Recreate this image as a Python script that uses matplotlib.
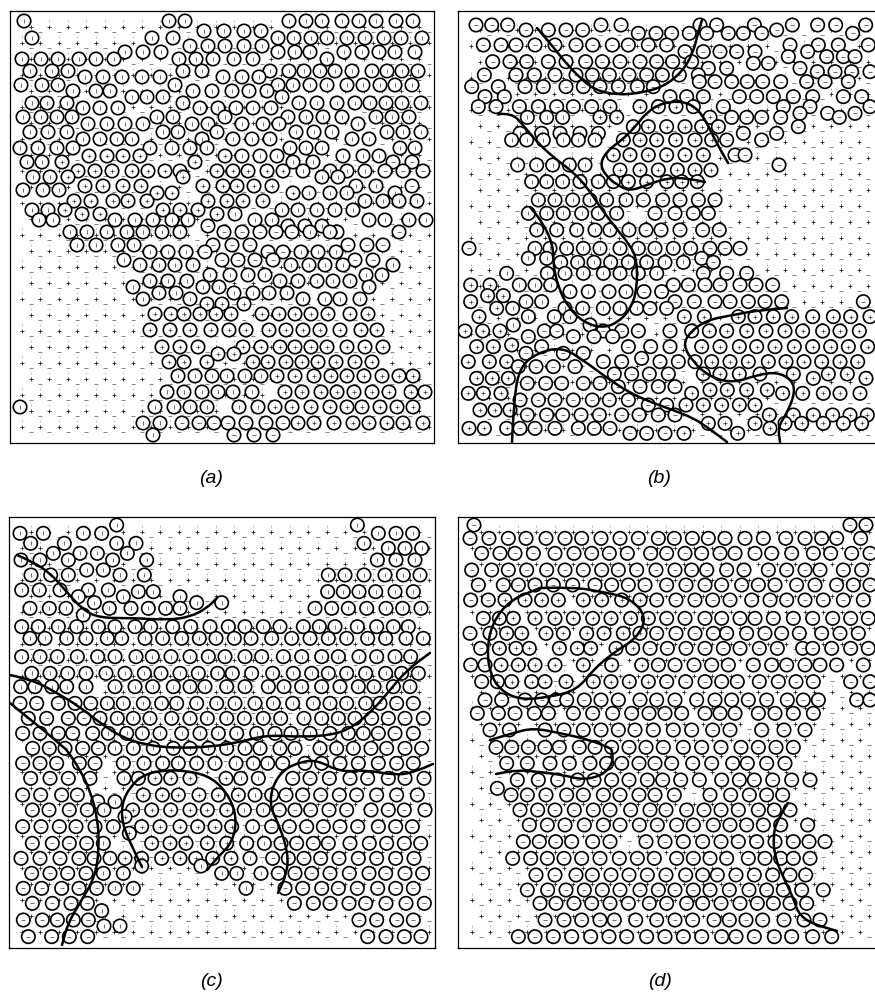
import numpy as np
import matplotlib
matplotlib.use('Agg')
import matplotlib.pyplot as plt
from matplotlib.path import Path
from matplotlib.patches import PathPatch, Circle

plt.rcParams['font.family'] = ['Liberation Sans', 'DejaVu Sans']

# rows are (y, [x, ...])
# panel a, image pixels
rows_a = [
    (21, [24, 169, 185, 289, 306, 322, 342, 359, 376, 396, 413]),
    (31, [204, 224, 244, 261]),
    (38, [32, 152, 173, 278, 294, 311, 327, 347, 365, 384, 401, 422]),
    (46, [190, 208, 225, 244, 262]),
    (52, [125, 143, 161, 278, 295, 310, 344, 362, 379, 395, 415]),
    (59, [22, 41, 58, 79, 96, 114, 179, 196, 213, 234, 253, 327]),
    (71, [30, 52, 68, 183, 202, 270, 289, 304, 320, 335, 352, 372, 387, 402, 418]),
    (77, [85, 103, 122, 142, 160, 223, 242, 259]),
    (85, [21, 42, 58, 175, 278, 293, 310, 327, 347, 363, 380, 395, 412]),
    (91, [73, 96, 110, 193, 212, 232, 249, 267]),
    (97, [132, 147, 163, 282]),
    (103, [32, 47, 67, 183, 299, 317, 337, 355, 370, 386, 402, 421]),
    (108, [83, 100, 118, 200, 218, 236, 253, 271]),
    (117, [23, 41, 57, 72, 157, 173, 225, 288, 306, 323, 342, 376, 392, 409]),
    (124, [88, 107, 125, 143, 192, 208, 242, 263, 279, 358]),
    (132, [30, 48, 67, 163, 178, 217, 296, 314, 332, 387, 403, 421]),
    (139, [83, 100, 117, 132, 202, 233, 252, 270, 352, 369]),
    (148, [20, 38, 57, 73, 150, 172, 190, 207, 290, 306, 322, 400, 415]),
    (156, [89, 107, 123, 140, 225, 242, 260, 277, 343, 363, 379]),
    (162, [27, 42, 62, 195, 293, 313, 393, 412]),
    (171, [78, 95, 112, 132, 148, 165, 180, 217, 233, 248, 267, 283, 303, 330, 347, 365, 385, 403, 423]),
    (177, [33, 50, 68, 183, 322, 338]),
    (186, [85, 103, 123, 141, 203, 223, 237, 254, 272, 356, 376, 412]),
    (193, [157, 172, 293, 309, 330, 347, 395]),
    (190, [23, 43, 59]),
    (201, [74, 91, 113, 128, 147, 208, 227, 243, 263, 365, 383, 399, 417]),
    (210, [32, 48, 65, 163, 180, 198, 282, 298, 317, 335, 353]),
    (214, [82, 100, 217, 235]),
    (220, [39, 53, 115, 135, 153, 172, 188, 255, 272, 369, 385, 409, 426]),
    (226, [208, 288, 305, 322]),
    (232, [70, 87, 107, 127, 143, 162, 180, 224, 242, 260, 276, 337, 292, 310, 330, 399]),
    (245, [77, 96, 118, 134, 213, 232, 250, 348, 367, 383]),
    (252, [150, 168, 186, 205, 268, 283, 301, 318, 336]),
    (260, [124, 222, 238, 255, 273, 355, 373]),
    (265, [140, 159, 175, 193, 291, 309, 325, 343, 393]),
    (275, [210, 230, 248, 265, 366, 382]),
    (281, [150, 168, 187, 280, 298, 317, 333, 350]),
    (287, [133, 203, 219, 369]),
    (293, [159, 176, 234, 253, 269, 287]),
    (299, [143, 190, 303, 325, 340, 360]),
    (304, [207, 222, 244]),
    (314, [155, 171, 184, 200, 216, 231, 262, 279, 295, 311, 328, 350, 368]),
    (330, [150, 170, 190, 211, 229, 246, 269, 286, 303, 320, 340, 361, 377]),
    (347, [162, 180, 198, 243, 261, 280, 295, 311, 327, 347, 365, 383]),
    (354, [218, 234]),
    (362, [169, 184, 207, 253, 268, 286, 302, 318, 336, 355, 372]),
    (376, [178, 195, 212, 227, 245, 261, 277, 295, 314, 331, 347, 364, 382, 399, 413]),
    (392, [167, 184, 202, 218, 233, 252, 285, 302, 321, 337, 354, 372, 389, 411, 425]),
    (407, [20, 155, 174, 190, 207, 239, 258, 275, 292, 311, 330, 347, 362, 380, 397, 413]),
    (423, [143, 160, 182, 199, 214, 228, 246, 266, 283, 298, 314, 334, 353, 369, 387, 403, 423]),
    (435, [153, 234, 254, 273]),
]

# panel b, 3x crop units, crop origin (440, 0)
rows_b_top = [
    (75, [108, 155, 203, 483, 543, 780, 830, 943, 1057, 1133, 1187, 1277]),
    (90, [258, 325, 378, 428, 1010]),
    (100, [595, 648, 695, 748, 800, 865, 910, 965, 1238]),
    (135, [130, 183, 228, 285, 345, 408, 458, 517, 565, 625, 680, 1050, 1135, 1195, 1285]),
    (155, [735, 790, 840, 890, 945, 1103]),
    (185, [158, 210, 260, 325, 378, 437, 487, 540, 600, 650, 698, 755]),
    (170, [1045, 1160, 1210, 1245]),
    (190, [940, 985]),
    (205, [805, 860, 1080]),
    (225, [133, 228, 283, 345, 408, 457, 508, 567, 620, 667, 718, 775]),
    (215, [1132, 1185, 1235, 1290]),
    (245, [778, 825, 875, 922, 968, 1022, 1100, 1155, 1225]),
    (260, [95, 175, 255, 310, 378, 430, 480, 535, 592, 640]),
    (290, [135, 193, 690, 740, 790, 898, 950, 1000, 1060, 1118, 1210, 1265]),
    (320, [115, 168, 238, 295, 350, 400, 455, 510, 600, 655, 708, 760, 850, 1030, 1110, 1290]),
    (340, [1080, 1163, 1245]),
    (352, [262, 320, 368, 480, 530, 810, 875, 920, 965, 1022, 1198]),
    (380, [580, 625, 680, 735, 785, 835, 1075]),
    (400, [240, 305, 360, 420, 475, 910, 1010]),
    (420, [215, 260, 310, 370, 415, 465, 550, 600, 650, 707, 765, 815, 860, 965]),
    (465, [520, 570, 625, 680, 735, 790, 885, 915]),
    (495, [233, 290, 338, 388, 435, 1017]),
    (510, [540, 600, 655, 712, 765, 813]),
    (545, [275, 320, 368, 420, 475, 520, 565, 620, 680, 725, 772]),
    (600, [295, 345, 398, 450, 500, 558, 610, 668, 720, 775, 825]),
    (640, [265, 320, 370, 425, 475, 530, 645, 705, 760, 805]),
    (690, [290, 350, 410, 465, 510, 567, 618, 663, 720, 788, 838]),
]
# panel b, crop origin (440, 230)
rows_b_bot = [
    (55, [87, 285, 330, 380, 430, 480, 540, 595, 645, 700, 752, 810, 855, 900]),
    (85, [265, 320, 785]),
    (97, [362, 413, 462, 512, 565, 620, 675, 730, 820]),
    (130, [200, 322, 375, 430, 490, 540, 595, 650, 790, 860, 920]),
    (165, [92, 150, 238, 285, 332, 700, 745, 795, 840, 900, 948, 998]),
    (185, [390, 445, 507, 558, 612, 665]),
    (197, [143, 190]),
    (215, [92, 258, 305, 705, 763, 825, 870, 925, 975, 1025, 1270]),
    (235, [170, 218, 375, 428, 490, 540, 590, 630, 680]),
    (260, [117, 265, 343, 390, 733, 793, 895, 945, 1000, 1055, 1118, 1180, 1232, 1290]),
    (285, [220, 450]),
    (303, [75, 128, 180, 313, 350, 490, 545, 595, 690, 755, 808, 860, 920, 978, 1035, 1088, 1148, 1200, 1258]),
    (320, [265, 400, 462, 518]),
    (345, [215]),
    (350, [110, 160, 305, 565, 632, 690, 785, 840, 898, 950, 1005, 1063, 1118, 1172, 1225, 1283]),
    (370, [258, 370, 430]),
    (385, [605]),
    (395, [85, 148, 200, 490, 545, 660, 715, 765, 815, 870, 925, 985, 1038, 1092, 1145, 1200, 1253]),
    (410, [235, 288, 340, 405]),
    (432, [523, 575, 628, 685, 790, 840, 898, 960, 1060, 1165, 1222]),
    (445, [110, 157, 205, 1120, 1278]),
    (460, [262, 317, 365, 430, 480]),
    (470, [535, 600, 655, 705]),
    (480, [810, 862, 920, 982]),
    (490, [85, 130, 183, 755, 1028, 1260, 1150, 1200, 1088]),
    (510, [240, 295, 345, 400, 457, 508, 565]),
    (525, [625, 680, 738, 790, 845, 898, 945]),
    (540, [120, 165, 210]),
    (555, [262, 320, 368, 423, 478, 545, 597, 655, 705, 988, 1060, 1120, 1178, 1230, 1282]),
    (580, [805, 855, 945, 1035, 1085, 1150, 1210, 1265]),
    (595, [87, 133, 200, 240, 285, 345, 415, 463, 510, 990]),
    (610, [570, 620, 675, 732, 893]),
]

# panel c, crop origin (0, 510)
rows_c_top = [
    (45, [350, 1072]),
    (70, [60, 130, 250, 305, 1135, 1188, 1238]),
    (100, [92, 193, 350, 408, 1092]),
    (115, [1165, 1215, 1265]),
    (130, [160, 240, 292, 382]),
    (150, [63, 120, 205, 338, 440, 1132, 1188, 1245]),
    (180, [260, 310]),
    (195, [93, 152, 205, 360, 433, 985, 1035, 1092, 1155, 1210, 1260]),
    (240, [65, 118, 180, 265, 325]),
    (245, [415, 460, 983, 1030, 1077, 1127, 1185, 1240]),
    (260, [235, 370, 540]),
    (278, [283, 590, 665]),
    (295, [90, 148, 198, 328, 393, 445, 497, 540, 945, 995, 1045, 1100, 1158, 1208, 1263]),
    (315, [250]),
    (350, [65, 115, 175, 230, 295, 345, 405, 452, 518, 572, 630, 685, 735, 790, 840, 910, 958, 1005, 1072, 1130, 1180, 1225]),
    (385, [90, 135, 200, 258, 322, 365, 435, 488, 545, 598, 648, 703, 753, 815, 875, 930, 985, 1040, 1103, 1157, 1218, 1270]),
    (440, [65, 120, 172, 232, 293, 345, 408, 457, 513, 570, 625, 675, 735, 785, 850, 905, 965, 1015, 1077, 1130, 1185, 1232]),
    (490, [95, 150, 203, 258, 318, 375, 433, 483, 540, 595, 653, 697, 755, 818, 880, 935, 985, 1040, 1097, 1157, 1205, 1255]),
    (530, [62, 105, 155, 200, 258, 345, 405, 458, 520, 570, 615, 680, 735, 805, 852, 905, 965, 1020, 1075, 1122, 1180, 1230]),
    (580, [60, 110, 175, 225, 272, 322, 370, 430, 485, 530, 590, 650, 705, 765, 820, 878, 940, 990, 1040, 1097, 1140, 1190, 1240]),
    (625, [85, 140, 205, 252, 300, 352, 400, 450, 515, 570, 622, 680, 733, 790, 842, 912, 965, 1015, 1065, 1115, 1165, 1215, 1270]),
    (670, [68, 120, 175, 218, 278, 325, 380, 427, 480, 545, 600, 655, 710, 770, 825, 873, 930, 990, 1045, 1090, 1135, 1185, 1240]),
]
# panel c, crop origin (0, 740)
rows_c_bot = [
    (25, [98, 148, 195, 248, 295, 345, 400, 460, 520, 570, 625, 680, 735, 780, 840, 885, 960, 1010, 1060, 1113, 1160, 1215, 1265]),
    (70, [68, 120, 170, 238, 285, 370, 432, 488, 535, 590, 645, 708, 760, 803, 848, 915, 965, 1020, 1075, 1135, 1190, 1240]),
    (115, [92, 150, 205, 270, 372, 415, 465, 512, 570, 678, 722, 775, 878, 930, 988, 1050, 1103, 1165, 1215, 1272]),
    (165, [68, 122, 185, 232, 430, 487, 535, 597, 655, 715, 765, 815, 858, 908, 962, 1018, 1070, 1130, 1190, 1252]),
    (185, [293, 345]),
    (210, [97, 147, 208, 262, 312, 398, 455, 512, 570, 622, 680, 733, 790, 838, 885, 932, 987, 1040, 1113, 1165, 1213, 1275]),
    (230, [375]),
    (260, [68, 123, 178, 228, 285, 340, 425, 480, 540, 593, 645, 695, 758, 815, 868, 920, 970, 1020, 1073, 1135, 1187, 1237]),
    (280, [388]),
    (310, [97, 157, 208, 260, 310, 455, 510, 558, 622, 680, 740, 793, 843, 890, 940, 985, 1050, 1108, 1160, 1213, 1262]),
    (355, [63, 120, 180, 237, 282, 330, 375, 425, 485, 540, 587, 638, 693, 750, 818, 865, 912, 962, 1017, 1075, 1130, 1187, 1242]),
    (378, [425, 603]),
    (400, [95, 150, 203, 258, 310, 370, 665, 710, 783, 835, 885, 935, 990, 1048, 1107, 1157, 1215, 1268]),
    (445, [70, 125, 185, 237, 290, 345, 400, 738, 855, 908, 965, 1015, 1072, 1133, 1187, 1240]),
    (490, [97, 157, 213, 262, 883, 940, 990, 1047, 1097, 1158, 1218, 1273]),
    (512, [305]),
    (540, [70, 127, 172, 220, 265, 1077, 1130, 1190, 1240]),
    (558, [312, 360]),
    (590, [85, 155, 208, 263, 1103, 1158, 1213, 1263]),
]

# panel d, crop origin (440, 510)
rows_d_top = [
    (45, [102, 1230, 1278]),
    (85, [90, 147, 205, 258, 318, 375, 425, 483, 540, 595, 655, 703, 757, 805, 855, 915, 970, 1037, 1095, 1145, 1190, 1262]),
    (130, [125, 180, 225, 280, 345, 402, 455, 508, 562, 632, 680, 735, 785, 840, 885, 945, 995, 1055, 1120, 1172, 1235, 1290]),
    (180, [95, 155, 205, 260, 320, 375, 430, 485, 535, 590, 648, 705, 755, 800, 860, 912, 985, 1040, 1095, 1140, 1210, 1265]),
    (225, [115, 190, 235, 285, 340, 398, 465, 515, 565, 615, 680, 738, 795, 845, 905, 955, 1005, 1070, 1125, 1190, 1240, 1290]),
    (270, [92, 145, 195, 255, 305, 355, 430, 485, 545, 600, 650, 708, 765, 818, 870, 935, 990, 1040, 1095, 1150, 1210, 1270]),
    (325, [130, 178, 220, 285, 345, 400, 458, 513, 572, 625, 680, 735, 795, 845, 900, 945, 1000, 1060, 1118, 1178, 1232, 1285]),
    (370, [90, 150, 200, 245, 318, 370, 440, 492, 550, 600, 650, 708, 765, 820, 860, 920, 975, 1025, 1078, 1145, 1200, 1255]),
    (415, [122, 178, 228, 268, 358, 412, 452, 528, 578, 630, 682, 738, 795, 850, 900, 958, 1012, 1088, 1118, 1175, 1232, 1285]),
    (465, [92, 135, 183, 235, 285, 345, 430, 515, 605, 655, 705, 762, 815, 865, 940, 995, 1040, 1095, 1140, 1190, 1270]),
    (515, [125, 172, 215, 275, 315, 378, 460, 513, 568, 625, 680, 737, 795, 845, 892, 958, 1015, 1068, 1120, 1232, 1290]),
    (570, [135, 185, 255, 305, 348, 380, 433, 483, 535, 600, 650, 705, 770, 825, 875, 925, 980, 1042, 1090, 1135, 1250, 1290]),
    (610, [112, 175, 225, 283, 325, 400, 458, 518, 575, 627, 675, 725, 795, 840, 885, 955, 1005, 1060, 1120]),
    (660, [150, 208, 315, 372, 430, 483, 535, 585, 640, 700, 755, 818, 870, 965, 1032, 1095]),
]
# panel d, crop origin (440, 740)
rows_d_bot = [
    (22, [168, 215, 265, 315, 358, 418, 465, 515, 567, 618, 670, 730, 785, 843, 903, 955, 1008, 1060]),
    (70, [200, 262, 330, 388, 450, 500, 545, 597, 645, 695, 758, 815, 878, 922, 980, 1035]),
    (120, [232, 295, 353, 413, 462, 515, 567, 622, 668, 722, 778, 845, 898, 943, 998, 1055, 1110]),
    (145, [172]),
    (165, [213, 262, 318, 380, 430, 490, 540, 597, 645, 703, 810, 872, 928, 980, 1028]),
    (210, [240, 293, 345, 403, 460, 510, 572, 630, 678, 740, 792, 843, 895, 955, 1003, 1050]),
    (255, [268, 322, 375, 433, 490, 540, 598, 652, 710, 760, 820, 870, 920, 970, 1022, 1103]),
    (305, [250, 298, 347, 395, 458, 510, 618, 675, 730, 788, 843, 895, 950, 1005, 1060, 1107, 1155]),
    (355, [218, 272, 322, 372, 425, 480, 538, 592, 643, 710, 760, 810, 860, 925, 975, 1022, 1060, 1110]),
    (405, [288, 345, 408, 457, 513, 567, 622, 678, 737, 788, 832, 888, 943, 998, 1050, 1097]),
    (450, [262, 323, 378, 433, 487, 540, 600, 655, 705, 760, 810, 868, 927, 980, 1030, 1085, 1150]),
    (490, [300, 348, 402, 455, 510, 565, 628, 680, 740, 788, 843, 900, 952, 1000, 1050, 1100]),
    (540, [315, 372, 425, 480, 523, 587, 650, 705, 758, 822, 868, 918, 968, 1032, 1092, 1140]),
    (590, [235, 285, 340, 395, 452, 507, 560, 620, 675, 730, 785, 845, 888, 943, 1003, 1055, 1118, 1175]),
]

# thick domain walls, image pixels
walls_b = [
    [(537, 28), (550, 43), (565, 62), (580, 78), (595, 90), (617, 95), (640, 93), (663, 87), (682, 72), (693, 53), (698, 33), (702, 20)],
    [(705, 182), (687, 178), (667, 178), (647, 185), (630, 191), (617, 185), (605, 175), (600, 163), (608, 150), (622, 140), (635, 127), (647, 112), (662, 103), (682, 101), (697, 108), (707, 123), (715, 140), (728, 163)],
    [(498, 114), (512, 113), (523, 125), (537, 142), (553, 157), (573, 172), (587, 187), (600, 207), (615, 227), (630, 245), (637, 260), (637, 290), (630, 310), (617, 323), (602, 328), (583, 322), (568, 307), (558, 287), (553, 263), (553, 245), (543, 223), (530, 207)],
    [(512, 442), (514, 397), (520, 367), (537, 353), (562, 347), (583, 360), (607, 378), (630, 393), (653, 403), (673, 410), (693, 418), (707, 427), (727, 442)],
    [(787, 308), (760, 310), (733, 315), (707, 320), (690, 332), (683, 345), (693, 362), (710, 377), (733, 383), (757, 375), (777, 372), (792, 380), (795, 393), (787, 413), (778, 427), (780, 442)],
]
walls_c = [
    [(17, 555), (33, 562), (50, 573), (65, 590), (83, 610), (100, 618), (133, 618), (167, 620), (190, 617), (207, 608), (217, 598)],
    [(10, 675), (33, 680), (57, 693), (80, 707), (100, 723), (123, 738), (147, 745), (173, 748), (210, 747), (240, 742), (267, 735), (300, 737), (333, 735), (353, 727), (373, 710), (390, 690), (407, 670), (430, 653)],
    [(10, 703), (27, 717), (47, 733), (63, 747), (67, 750), (80, 770), (90, 790), (98, 820), (99, 850), (95, 877), (80, 903), (68, 923), (62, 945)],
    [(142, 867), (132, 847), (122, 823), (122, 803), (130, 787), (143, 775), (163, 770), (190, 771), (213, 778), (230, 797), (237, 820), (232, 843), (218, 857), (207, 870)],
    [(433, 764), (413, 773), (393, 775), (367, 770), (340, 772), (317, 760), (300, 762), (283, 770), (272, 787), (270, 807), (280, 827), (288, 853), (287, 873), (278, 893)],
]
walls_d = [
    [(540, 588), (573, 587), (603, 592), (630, 598), (647, 617), (637, 638), (613, 653), (593, 670), (577, 690), (550, 697), (520, 700), (500, 690), (490, 673), (487, 650), (492, 623), (510, 600), (540, 588)],
    [(490, 740), (513, 733), (533, 728), (560, 733), (590, 740), (610, 748), (612, 750), (613, 763), (603, 775), (583, 780), (563, 775), (540, 772), (517, 770), (496, 774)],
    [(788, 803), (777, 820), (773, 837), (775, 857), (783, 877), (793, 897), (798, 913), (810, 923), (837, 931)],
]

# which small sign sits in the circles: x0, x1, y0, y1, sign
signs_a = [(0, 440, 0, 445, '|'), (60, 230, 150, 215, '+'), (230, 300, 170, 210, '+'), (380, 435, 150, 190, '_'),
           (200, 300, 225, 262, '_'), (340, 400, 225, 262, '_'), (150, 430, 300, 370, '+'), (270, 430, 370, 425, '+'),
           (170, 290, 412, 440, '_')]
signs_b = [(458, 876, 0, 445, '_'), (490, 640, 115, 330, '|'), (600, 720, 105, 185, '+'), (680, 876, 310, 435, '+'),
           (458, 512, 280, 440, '+'), (640, 700, 240, 280, '|')]
signs_c = [(0, 440, 515, 950, '|'), (0, 100, 700, 950, '_'), (270, 440, 750, 950, '_'), (370, 440, 700, 760, '_'),
           (125, 240, 775, 860, '+')]
signs_d = [(458, 876, 515, 950, '_'), (490, 650, 590, 695, '+')]

# small lattice sign rows
site_x = [0, 18.5, 37, 55.5, 74, 92.5, 111, 129.5, 148, 166.5, 185, 203.5, 222, 240.5, 259, 277.5, 296, 314.5, 333, 351.5, 370, 388.5, 407]
site_y = [0, 16, 32, 48, 64, 80, 96, 112, 128, 144, 160, 176, 192, 208, 224, 240, 256, 272, 288, 304, 320, 336, 352, 368, 384, 400]


def read_rows(rows, x0=0, y0=0, k=1.0):
    xs, ys = [], []
    for y, row in rows:
        for x in row:
            xs.append(x0 + x / k)
            ys.append(y0 + y / k)
    return np.array(xs), np.array(ys)


def smooth(pts):
    # quadratic curve through the midpoints of the read points
    pts = np.array(pts, dtype=float)
    verts = [pts[0]]
    codes = [Path.MOVETO]
    for i in range(1, len(pts) - 1):
        verts += [pts[i], (pts[i] + pts[i + 1]) / 2]
        codes += [Path.CURVE3, Path.CURVE3]
    verts.append(pts[-1])
    codes.append(Path.LINETO)
    return Path(verts, codes)


def draw_panel(box, lattice, cx, cy, signs, walls, label, label_xy):
    left, right, top, bottom = box
    ax = fig.add_axes([left / W, 1 - bottom / H, (right - left) / W, (bottom - top) / H])
    ax.set_xlim(left, right)
    ax.set_ylim(bottom, top)
    ax.set_xticks([])
    ax.set_yticks([])
    for s in ax.spines.values():
        s.set_linewidth(0.9)
    if right > W:
        ax.spines['right'].set_visible(False)

    # lattice signs behind the circles
    px, py = [], []
    for j, dy in enumerate(site_y):
        for dx in site_x:
            px.append(lattice[0] + dx + (9.25 if j % 2 else 0))
            py.append(lattice[1] - dy)
    px, py = np.array(px), np.array(py)
    keep = px < right - 4
    px, py = px[keep], py[keep]
    ax.plot(px, py, ls='', marker='+', ms=2.2, mew=0.6, color='#222222', zorder=1)
    ax.plot(px + 9.25, py + 5, ls='', marker='_', ms=2.4, mew=0.5, color='#555555', zorder=1)
    ax.plot(px, py - 5.5, ls='', marker='|', ms=2.0, mew=0.4, color='#888888', zorder=1)

    for x, y in zip(cx, cy):
        ax.add_patch(Circle((x, y), 6.7, fc='white', ec='black', lw=1.2, zorder=2))

    # sign in the middle of each circle, last matching box wins
    marks = np.array(['|'] * len(cx))
    for x0, x1, y0, y1, m in signs:
        marks[(cx >= x0) & (cx < x1) & (cy >= y0) & (cy < y1)] = m
    for m in '|_+':
        sel = marks == m
        ax.plot(cx[sel], cy[sel], ls='', marker=m, ms=2.2, mew=0.5, color='#333333', zorder=3)

    for w in walls:
        ax.add_patch(PathPatch(smooth(w), fc='none', ec='black', lw=1.8, capstyle='round', zorder=4))

    ax.text(label_xy[0], label_xy[1], label, style='italic', fontsize=14, ha='center', va='center', clip_on=False)
    return ax


W, H = 875, 992
fig = plt.figure(figsize=(W / 100, H / 100), dpi=100)

ax_x, ax_y = read_rows(rows_a)
bt = read_rows(rows_b_top, 440, 0, 3)
bb = read_rows(rows_b_bot, 440, 230, 3)
ct = read_rows(rows_c_top, 0, 510, 3)
cb = read_rows(rows_c_bot, 0, 740, 3)
dt = read_rows(rows_d_top, 440, 510, 3)
db = read_rows(rows_d_bot, 440, 740, 3)

draw_panel((10, 434, 11, 443), (21.7, 426.7), ax_x, ax_y, signs_a, [], '(a)', (211, 478))
draw_panel((458, 880, 11, 443), (470.7, 430), np.r_[bt[0], bb[0]], np.r_[bt[1], bb[1]], signs_b, walls_b, '(b)', (659, 478))
draw_panel((9, 435, 517, 948), (21.7, 931.7), np.r_[ct[0], cb[0]], np.r_[ct[1], cb[1]], signs_c, walls_c, '(c)', (211, 981))
draw_panel((458, 880, 517, 948), (471.7, 931.7), np.r_[dt[0], db[0]], np.r_[dt[1], db[1]], signs_d, walls_d, '(d)', (660, 981))

plt.savefig('out.png', dpi=100)
